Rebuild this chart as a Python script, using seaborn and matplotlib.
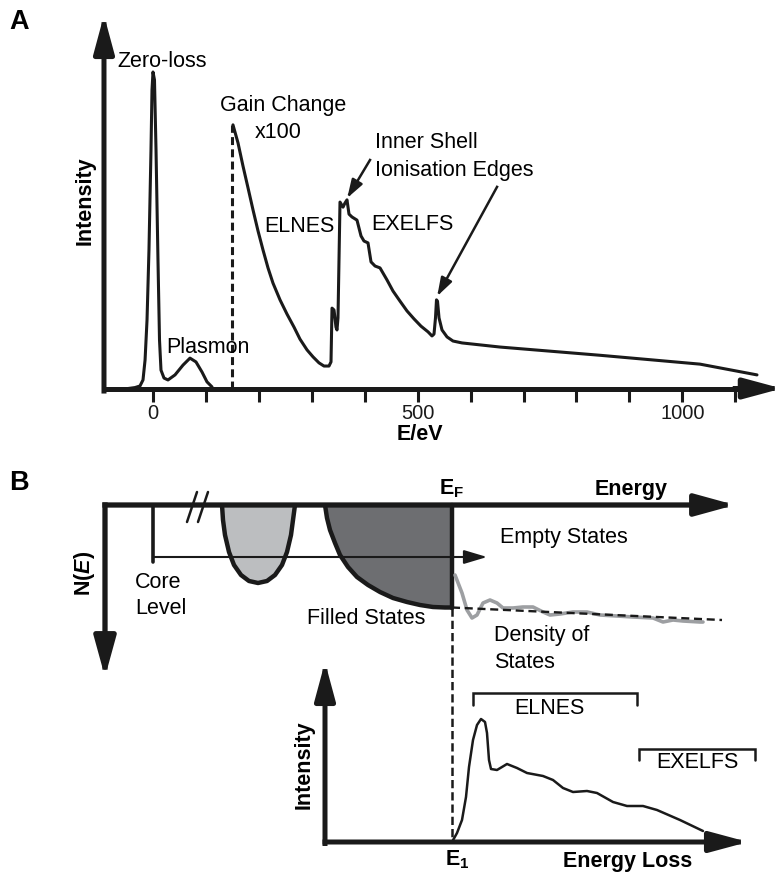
import matplotlib
matplotlib.use("Agg")
import matplotlib.pyplot as plt
import seaborn as sns

# ---- panel A: EELS spectrum (energy loss / eV, intensity in arbitrary units) ----
low_loss_ev = [-47, -34, -24.6, -18.9, -15, -11.3, -7.6, -3.8, -1.9, 0, 2.8, 5.7, 9.4, 12.3,
               15.1, 20.8, 28.3, 41.6, 56.7, 69.9, 81.2, 92.6, 102, 111.5]
low_loss_int = [0, 0.3, 0.8, 2.7, 9, 21.6, 43.8, 75.4, 94.3, 100, 97.5, 75.4, 40.6, 15.3,
                5.8, 3.3, 2.7, 4.3, 7.4, 9.6, 8.4, 5.2, 2.1, 0.5]

core_loss_ev = [151.1, 160.6, 170, 179.5, 189, 198.4, 207.8, 217.3, 226.7, 240, 253.2, 266.4,
                277.7, 291, 302.3, 313.6, 323, 332.5, 336.3, 338.2, 342, 345.7, 347.6, 349.5,
                353.3, 359, 362.7, 366.5, 370.3, 375.9, 385.4, 393, 398.6, 406.2, 411.9, 419.5,
                428.9, 442.1, 453.4, 466.7, 479.9, 493.1, 506.3, 519.6, 527.1, 530.9, 533.7,
                535.6, 537.5, 540.4, 546, 555.5, 566.8, 583.8, 655.6, 844.5, 1033.4, 1141.1]
core_loss_int = [83.3, 77.6, 70.3, 63.4, 56.4, 49.8, 43.8, 38.1, 33.3, 28, 23.5, 19.4,
                 15.6, 12.2, 10, 8.1, 7.1, 7.1, 8.4, 25.4, 24.8, 19.4, 18.5, 22.3,
                 58.9, 57.3, 58.6, 59.6, 55.1, 54.2, 53.2, 48.2, 46.6, 46, 40, 38.7,
                 38.1, 34.3, 30.8, 27.6, 24.5, 22, 19.7, 17.9, 16.6, 17.2, 22.3,
                 28, 27.6, 22.3, 18.5, 16.3, 15, 14.4, 13.1, 10.5, 7.7, 4.3]

gain_change_ev = 150
gain_change_top = 83.3
tick_ev = list(range(0, 1101, 100))
tick_labels = [str(t) if t in (0, 500, 1000) else "" for t in tick_ev]

# ---- panel B: density of states sketch (arbitrary energy units, E_F = 0, N(E) downwards) ----
core_band_x = [-230, -229, -227, -223, -218, -211, -203, -194, -185, -177, -170, -165, -161, -159, -157]
core_band_y = [0, 15, 30, 47, 60, 70, 76, 78, 76, 70, 60, 47, 30, 15, 0]
filled_x = [-127, -125, -122, -117, -112, -104, -95, -84, -72, -59, -45, -32, -19, -7, 0]
filled_y = [0, 13, 25, 38, 50, 62, 72, 80, 87, 93, 97, 100, 102, 102.5, 102.5]
dos_x = [3, 10, 15, 20, 25, 31, 38, 45, 51, 61, 71, 81, 91, 98, 108, 121, 135, 148, 165, 181,
         201, 211, 221, 231, 248, 251]
dos_y = [70, 88, 105, 113, 110, 98, 95, 98, 103, 103, 102, 102, 107, 110, 109, 107, 107, 110,
         111, 112, 113, 117, 115, 116, 117, 117]
dos_trend_x = [0, 270]
dos_trend_y = [102.5, 115]
core_level_x = -299
core_level_depth = 52

# ---- inset: core-loss edge (energy loss from E1, intensity) ----
edge_x = [0, 5, 10, 14, 17, 21, 25, 29, 33, 35, 37, 39, 45, 55, 65, 75, 91, 101, 111, 121,
          135, 145, 161, 175, 191, 205, 228, 251]
edge_y = [0, 9, 22, 45, 75, 102, 117, 123, 120, 109, 82, 73, 72, 78, 74, 69, 66, 62, 54, 50,
          51, 49, 40, 36, 36, 32, 22, 11]
elnes_range = (21, 185)
exelfs_range = (187, 303)

sns.set_theme(style="white")
plt.rcParams["font.family"] = ["Liberation Sans", "DejaVu Sans"]
plt.rcParams["text.color"] = "black"
plt.rcParams["mathtext.fontset"] = "custom"
plt.rcParams["mathtext.rm"] = "Liberation Sans"
plt.rcParams["mathtext.bf"] = "Liberation Sans:bold"
plt.rcParams["mathtext.it"] = "Liberation Sans:italic"
plt.rcParams["mathtext.bfit"] = "Liberation Sans:italic:bold"

FS = 15.5


def arrow(ax, start, end, lw, head_len, head_w):
    ax.annotate("", xy=end, xytext=start,
                arrowprops=dict(arrowstyle=f"-|>,head_length={head_len},head_width={head_w}",
                                lw=lw, color="k", shrinkA=0, shrinkB=0, mutation_scale=10,
                                joinstyle="round", capstyle="projecting"))


fig = plt.figure(figsize=(7.83, 8.74), dpi=100)

# panel A
ax_a = fig.add_axes([0, 1 - 440 / 874, 1, 440 / 874])
ax_a.set_xlim(-289.06, 1190.25)
ax_a.set_ylim(-16.27, 122.75)
ax_a.set_facecolor("none")
sns.lineplot(x=low_loss_ev, y=low_loss_int, ax=ax_a, color="k", lw=2.2, sort=False, estimator=None)
sns.lineplot(x=core_loss_ev, y=core_loss_int, ax=ax_a, color="k", lw=2.2, sort=False, estimator=None)
ax_a.plot([gain_change_ev, gain_change_ev], [0, gain_change_top], color="k", lw=2.2,
          linestyle=(0, (2.6, 1.4)))

for s in ("top", "right", "left"):
    ax_a.spines[s].set_visible(False)
ax_a.spines["bottom"].set_position(("data", 0))
ax_a.spines["bottom"].set_bounds(-92.6, 1140)
ax_a.spines["bottom"].set_linewidth(3.6)
ax_a.spines["bottom"].set_color("k")
ax_a.set_xticks(tick_ev)
ax_a.set_xticklabels(tick_labels)
ax_a.set_yticks([])
ax_a.tick_params(axis="x", bottom=True, direction="out", length=9.4, width=2.2, color="k",
                 labelsize=14.5, labelcolor="k", pad=2.0)
ax_a.set_xlabel("")
ax_a.set_ylabel("")
arrow(ax_a, (-92.6, -0.8), (-92.6, 118.0), 3.6, 2.3, 0.62)
arrow(ax_a, (1100, 0), (1188, 0), 3.6, 2.3, 0.62)
arrow(ax_a, (410, 72.2), (367, 60.2), 1.8, 1.1, 0.36)
arrow(ax_a, (650, 63.7), (537, 29.2), 1.8, 1.1, 0.36)

ax_a.text(-253, 115.8, "A", fontsize=19.5, fontweight="bold", ha="center", va="center")
ax_a.text(-128.5, 59.2, "Intensity", fontsize=FS, fontweight="bold", rotation=90, ha="center", va="center")
ax_a.text(504.4, -14.6, "E/eV", fontsize=FS, fontweight="bold", ha="center", va="center")
ax_a.text(17, 103.2, "Zero-loss", fontsize=FS, ha="center", va="center")
ax_a.text(245.6, 89.3, "Gain Change", fontsize=FS, ha="center", va="center")
ax_a.text(236.2, 81, "x100", fontsize=FS, ha="center", va="center")
ax_a.text(419.4, 77.6, "Inner Shell", fontsize=FS, ha="left", va="center")
ax_a.text(419.4, 69, "Ionisation Edges", fontsize=FS, ha="left", va="center")
ax_a.text(275.8, 51.3, "ELNES", fontsize=FS, ha="center", va="center")
ax_a.text(489.3, 51.7, "EXELFS", fontsize=FS, ha="center", va="center")
ax_a.text(103.9, 12.8, "Plasmon", fontsize=FS, ha="center", va="center")

# panel B
ax_b = fig.add_axes([0, 0, 1, 434 / 874])
ax_b.set_xlim(-452, 331)
ax_b.set_ylim(369, -65)
ax_b.set_axis_off()
ax_b.fill(core_band_x, core_band_y, color="#bcbec0", lw=0, zorder=1)
ax_b.plot(core_band_x, core_band_y, color="k", lw=3.2, zorder=2, solid_capstyle="butt")
ax_b.fill(filled_x + [0], filled_y + [0], color="#6d6e71", lw=0, zorder=1)
ax_b.plot(filled_x, filled_y, color="k", lw=3.2, zorder=2, solid_capstyle="butt")
ax_b.plot([0, 0], [0, filled_y[-1]], color="k", lw=3.2, zorder=2)
ax_b.plot([0, 0], [filled_y[-1], 337], color="k", lw=1.8, linestyle=(0, (3.3, 1.6)), zorder=2)
ax_b.plot(dos_trend_x, dos_trend_y, color="k", lw=1.7, linestyle=(0, (3.4, 2.0)), zorder=3)
sns.lineplot(x=dos_x, y=dos_y, ax=ax_b, color="#9d9fa2", lw=2.6, sort=False, estimator=None, zorder=2)
ax_b.plot([core_level_x, core_level_x], [0, core_level_depth + 5], color="k", lw=2.6, zorder=3)
arrow(ax_b, (core_level_x, core_level_depth), (35, core_level_depth), 1.5, 1.4, 0.42)
ax_b.plot([-265, -255], [17, -13], color="k", lw=1.8, zorder=4)
ax_b.plot([-254, -244], [17, -13], color="k", lw=1.8, zorder=4)
arrow(ax_b, (-347, 0), (283, 0), 3.8, 2.4, 0.66)
arrow(ax_b, (-347, 0), (-347, 172), 3.8, 2.4, 0.66)

ax_b.text(-433, -22, "B", fontsize=19.5, fontweight="bold", ha="center", va="center")
ax_b.text(0, -16, r"$\mathbf{E}_{\mathbf{F}}$", fontsize=FS, ha="center", va="center")
ax_b.text(179, -16, "Energy", fontsize=FS, fontweight="bold", ha="center", va="center")
ax_b.text(112, 32, "Empty States", fontsize=FS, ha="center", va="center")
ax_b.text(-317, 77, "Core", fontsize=FS, ha="left", va="center")
ax_b.text(-317, 103, "Level", fontsize=FS, ha="left", va="center")
ax_b.text(-86, 113, "Filled States", fontsize=FS, ha="center", va="center")
ax_b.text(42, 130, "Density of", fontsize=FS, ha="left", va="center")
ax_b.text(42, 157, "States", fontsize=FS, ha="left", va="center")
ax_b.text(-368, 68, r"$\mathbf{N(}\mathbfit{E}\mathbf{)}$", fontsize=FS, rotation=90,
          ha="center", va="center")

# inset: edge shape
ax_c = fig.add_axes([290 / 783, 0, 493 / 783, 234 / 874])
ax_c.set_xlim(-162, 331)
ax_c.set_ylim(-32, 202)
ax_c.set_axis_off()
ax_c.patch.set_visible(False)
sns.lineplot(x=edge_x, y=edge_y, ax=ax_c, color="k", lw=1.8, sort=False, estimator=None)
arrow(ax_c, (-127, -1.5), (-127, 180), 3.6, 2.3, 0.62)
arrow(ax_c, (-127, 0), (296, 0), 3.6, 2.3, 0.62)
for (x0, x1), yb, depth in ((elnes_range, 149, 12), (exelfs_range, 93, 11)):
    ax_c.plot([x0, x0, x1, x1], [yb - depth, yb, yb, yb - depth], color="k", lw=1.8,
              solid_joinstyle="miter")
ax_c.text(97, 134, "ELNES", fontsize=FS, ha="center", va="center")
ax_c.text(245, 79, "EXELFS", fontsize=FS, ha="center", va="center")
ax_c.text(-148, 77, "Intensity", fontsize=FS, fontweight="bold", rotation=90, ha="center", va="center")
ax_c.text(5, -18, r"$\mathbf{E}_{\mathbf{1}}$", fontsize=FS, ha="center", va="center")
ax_c.text(176, -19, "Energy Loss", fontsize=FS, fontweight="bold", ha="center", va="center")

fig.savefig("out.png", dpi=100)
